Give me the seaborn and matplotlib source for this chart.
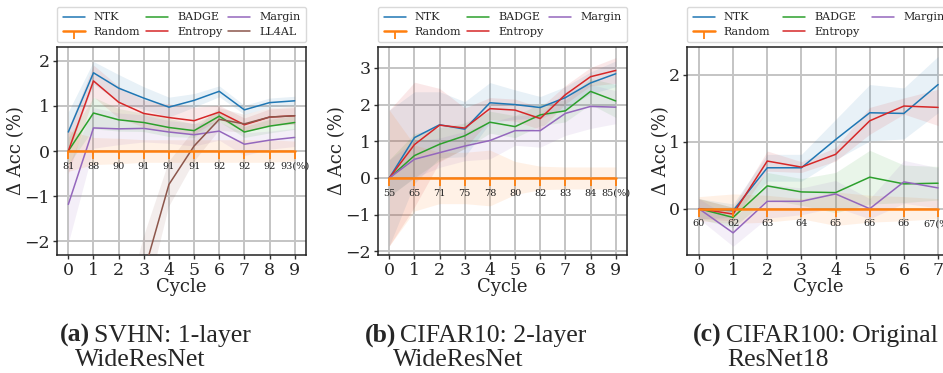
import numpy as np
import matplotlib
matplotlib.use("Agg")
import matplotlib.pyplot as plt
import seaborn as sns

# ---------------- data ----------------
methods = ["NTK", "Random", "BADGE", "Entropy", "Margin", "LL4AL"]
colors = {"NTK": "#1f77b4", "Random": "#ff7f0e", "BADGE": "#2ca02c",
          "Entropy": "#d62728", "Margin": "#9467bd", "LL4AL": "#8c564b"}

# (a) SVHN
svhn_cycles = list(range(10))
svhn_acc_labels = ["81", "88", "90", "91", "91", "91", "92", "92", "92", "93(%)"]
svhn_ntk = [0.42, 1.73, 1.39, 1.17, 0.97, 1.12, 1.32, 0.91, 1.07, 1.11]
svhn_ntk_sd = [0.45, 0.25, 0.30, 0.25, 0.22, 0.15, 0.12, 0.10, 0.10, 0.10]
svhn_entropy = [0.0, 1.55, 1.08, 0.83, 0.74, 0.67, 0.86, 0.58, 0.75, 0.78]
svhn_entropy_sd = [0.50, 0.35, 0.35, 0.30, 0.30, 0.30, 0.15, 0.15, 0.18, 0.18]
svhn_badge = [0.0, 0.84, 0.69, 0.63, 0.52, 0.45, 0.77, 0.42, 0.55, 0.63]
svhn_badge_sd = [0.30, 0.35, 0.25, 0.20, 0.20, 0.15, 0.12, 0.12, 0.15, 0.15]
svhn_margin = [-1.18, 0.51, 0.49, 0.50, 0.42, 0.36, 0.44, 0.15, 0.24, 0.30]
svhn_margin_sd = [0.85, 0.45, 0.35, 0.30, 0.25, 0.25, 0.20, 0.25, 0.20, 0.20]
svhn_ll4al = [-9.0, -7.0, -5.0, -2.7, -0.74, 0.11, 0.70, 0.60, 0.75, 0.78]
svhn_ll4al_sd = [1.0, 1.0, 1.0, 0.8, 0.5, 0.35, 0.25, 0.20, 0.20, 0.20]
svhn_random = [0.0] * 10
svhn_random_sd = [0.45, 0.30, 0.28, 0.25, 0.25, 0.25, 0.25, 0.25, 0.25, 0.22]

# (b) CIFAR10
c10_cycles = list(range(10))
c10_acc_labels = ["55", "65", "71", "75", "78", "80", "82", "83", "84", "85(%)"]
c10_ntk = [0.0, 1.10, 1.45, 1.33, 2.05, 2.00, 1.92, 2.19, 2.59, 2.84]
c10_ntk_sd = [1.85, 1.25, 0.90, 0.75, 0.55, 0.40, 0.30, 0.30, 0.30, 0.35]
c10_entropy = [0.0, 0.91, 1.44, 1.36, 1.89, 1.85, 1.62, 2.27, 2.76, 2.93]
c10_entropy_sd = [1.85, 1.70, 1.00, 0.55, 0.30, 0.30, 0.30, 0.25, 0.25, 0.35]
c10_badge = [0.0, 0.61, 0.92, 1.15, 1.52, 1.40, 1.72, 1.83, 2.36, 2.10]
c10_badge_sd = [0.50, 0.60, 0.45, 0.35, 0.30, 0.30, 0.30, 0.30, 0.35, 0.45]
c10_margin = [0.0, 0.51, 0.69, 0.87, 1.02, 1.29, 1.29, 1.76, 1.95, 1.93]
c10_margin_sd = [0.50, 0.50, 0.40, 0.40, 0.50, 0.40, 0.45, 0.60, 0.60, 0.45]
c10_random = [0.0] * 10
c10_random_sd = [1.85, 0.90, 0.70, 0.70, 0.76, 0.45, 0.32, 0.30, 0.30, 0.30]

# (c) CIFAR100
c100_cycles = list(range(8))
c100_acc_labels = ["60", "62", "63", "64", "65", "66", "66", "67(%)"]
c100_ntk = [0.0, -0.03, 0.61, 0.61, 1.03, 1.43, 1.42, 1.85]
c100_ntk_sd = [0.15, 0.10, 0.20, 0.20, 0.30, 0.42, 0.38, 0.42]
c100_entropy = [0.0, -0.08, 0.71, 0.62, 0.81, 1.31, 1.53, 1.51]
c100_entropy_sd = [0.15, 0.10, 0.15, 0.08, 0.10, 0.20, 0.12, 0.27]
c100_badge = [0.0, -0.13, 0.34, 0.25, 0.24, 0.47, 0.37, 0.38]
c100_badge_sd = [0.15, 0.15, 0.20, 0.20, 0.30, 0.40, 0.28, 0.25]
c100_margin = [0.0, -0.36, 0.11, 0.11, 0.22, 0.0, 0.40, 0.31]
c100_margin_sd = [0.15, 0.20, 0.25, 0.20, 0.20, 0.15, 0.32, 0.30]
c100_random = [0.0] * 8
c100_random_sd = [0.18, 0.22, 0.20, 0.15, 0.25, 0.20, 0.18, 0.15]

captions = [("a", "SVHN: 1-layer", "WideResNet"),
            ("b", "CIFAR10: 2-layer", "WideResNet"),
            ("c", "CIFAR100: Original", "ResNet18")]

# ---------------- style ----------------
sns.set_style("whitegrid")
plt.rcParams["font.family"] = ["DejaVu Serif"]
plt.rcParams["mathtext.fontset"] = "dejavuserif"

W, H = 943, 373
fig = plt.figure(figsize=(W / 100, H / 100), dpi=100)


def px_axes(left, top, width, height):
    return fig.add_axes([left / W, 1 - (top + height) / H, width / W, height / H])


panels = [
    dict(ax=px_axes(57, 47, 249, 208), x=svhn_cycles, labels=svhn_acc_labels,
         series={"NTK": (svhn_ntk, svhn_ntk_sd), "Random": (svhn_random, svhn_random_sd),
                 "BADGE": (svhn_badge, svhn_badge_sd), "Entropy": (svhn_entropy, svhn_entropy_sd),
                 "Margin": (svhn_margin, svhn_margin_sd), "LL4AL": (svhn_ll4al, svhn_ll4al_sd)},
         ylim=(-2.3, 2.3), yticks=[-2, -1, 0, 1, 2], xlim=(-0.45, 9.45)),
    dict(ax=px_axes(378, 47, 249, 208), x=c10_cycles, labels=c10_acc_labels,
         series={"NTK": (c10_ntk, c10_ntk_sd), "Random": (c10_random, c10_random_sd),
                 "BADGE": (c10_badge, c10_badge_sd), "Entropy": (c10_entropy, c10_entropy_sd),
                 "Margin": (c10_margin, c10_margin_sd)},
         ylim=(-2.1, 3.57), yticks=[-2, -1, 0, 1, 2, 3], xlim=(-0.45, 9.45)),
    dict(ax=px_axes(687, 47, 263, 208), x=c100_cycles, labels=c100_acc_labels,
         series={"NTK": (c100_ntk, c100_ntk_sd), "Random": (c100_random, c100_random_sd),
                 "BADGE": (c100_badge, c100_badge_sd), "Entropy": (c100_entropy, c100_entropy_sd),
                 "Margin": (c100_margin, c100_margin_sd)},
         ylim=(-0.69, 2.41), yticks=[0, 1, 2], xlim=(-0.35, 7.35)),
]

for p in panels:
    ax = p["ax"]
    x = np.array(p["x"])
    handles = {}
    for name, (mean, sd) in p["series"].items():
        mean = np.array(mean)
        sd = np.array(sd)
        ax.fill_between(x, mean - sd, mean + sd, color=colors[name], alpha=0.1, lw=0)
        if name == "Random":
            sns.lineplot(x=x, y=mean, ax=ax, color=colors[name], lw=1.8,
                         marker=3, markersize=5.5, markeredgewidth=1.3,
                         markeredgecolor=colors[name], zorder=5)
        else:
            sns.lineplot(x=x, y=mean, ax=ax, color=colors[name], lw=1.1, zorder=4)
        handles[name] = ax.get_lines()[-1]
    for xi, lab in zip(x, p["labels"]):
        ax.annotate(lab, (xi, 0), xytext=(0, -11), textcoords="offset points",
                    ha="center", va="center", fontsize=7, color="#222222", zorder=6)
    ax.set_xlim(*p["xlim"])
    ax.set_ylim(*p["ylim"])
    ax.set_xticks(x)
    ax.set_yticks(p["yticks"])
    ax.tick_params(axis="both", labelsize=12.5, length=3, width=1, color="#333333",
                   left=True, bottom=True, pad=2)
    ax.set_xlabel("Cycle", fontsize=13, labelpad=-1)
    ax.set_ylabel("Δ Acc (%)", fontsize=13, labelpad=-0.5)
    ax.grid(True, color="#c4c4c4", lw=1.4)
    for s in ax.spines.values():
        s.set_color("#222222")
        s.set_linewidth(1.1)
    order = [n for n in methods if n in handles]
    ax.legend([handles[n] for n in order], order, ncol=3, loc="lower left",
              bbox_to_anchor=(0, 1.022, 1, 0.2), mode="expand", borderaxespad=0,
              fontsize=8, frameon=True, handlelength=2.0, handletextpad=0.8,
              borderpad=0.5, labelspacing=0.4, columnspacing=1.0,
              edgecolor="#d0d0d0", fancybox=True)

# ---------------- captions ----------------
cap_pos = [((60, 342), (75, 366)), ((365, 342), (393, 366)), ((693, 342), (727, 366))]
for (letter, line1, line2), ((x1, y1), (x2, y2)) in zip(captions, cap_pos):
    t = fig.text(x1 / W, 1 - y1 / H, f"({letter})", fontsize=18.5, fontweight="bold",
                 family="Liberation Serif", ha="left", va="baseline")
    fig.canvas.draw()
    bb = t.get_window_extent()
    fig.text((bb.x1 + 4) / W, 1 - y1 / H, line1, fontsize=18.5, family="Liberation Serif",
             ha="left", va="baseline")
    fig.text(x2 / W, 1 - y2 / H, line2, fontsize=18.5, family="Liberation Serif",
             ha="left", va="baseline")

fig.savefig("out.png", dpi=100)
